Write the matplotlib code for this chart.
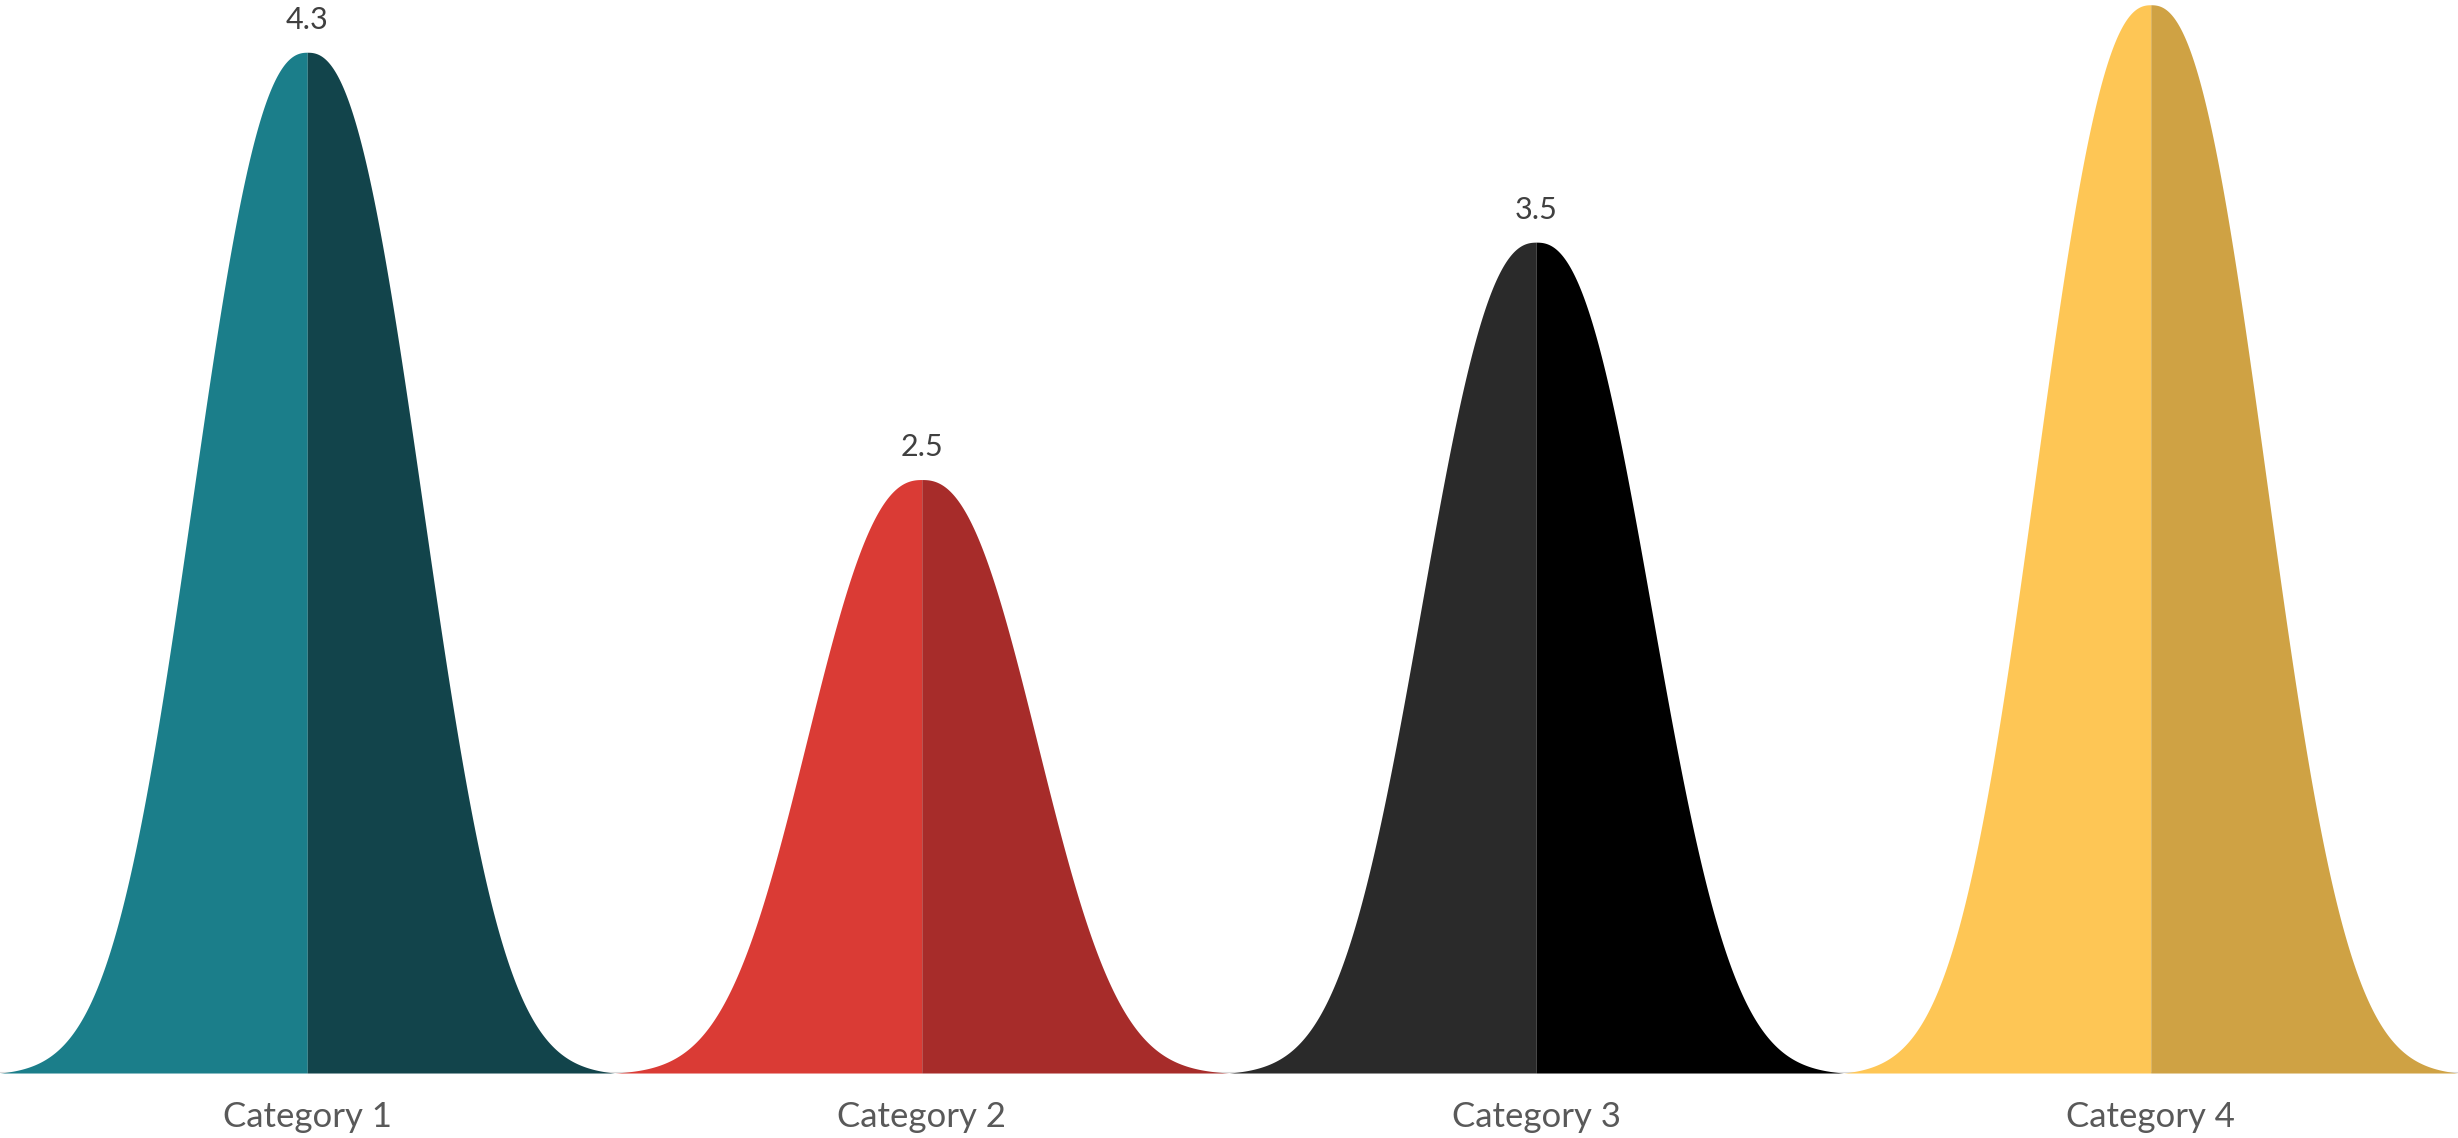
import numpy as np
import matplotlib
matplotlib.use('Agg')
import matplotlib.pyplot as plt

categories = ['Category 1', 'Category 2', 'Category 3', 'Category 4']
values = [4.3, 2.5, 3.5, 4.5]
left_colors = ['#1B7E8A', '#DA3B35', '#2A2A2A', '#FEC655']
right_colors = ['#12444B', '#A72C2A', '#000000', '#CFA244']

plt.rcParams['font.family'] = ['Lato', 'DejaVu Sans']

# bell profile on one category slot, 0 at the edges and 1 at the middle
u = np.linspace(-0.5, 0.5, 801)
a, p = 0.2351, 2.4
g = np.exp(-(np.abs(u) / a) ** p)
c = np.exp(-(0.5 / a) ** p)
shape = (g - c) / (1 - c)

ymax = 4.52

fig = plt.figure(figsize=(24.58, 11.38), dpi=100)
ax = fig.add_axes([0, 0.0571, 1, 0.9429])

ax.axhline(0, color='#D9D9D9', lw=2.2, zorder=1)

for i, v in enumerate(values):
    left = u <= 0
    right = u >= 0
    ax.fill_between(i + u[left], 0, v * shape[left], color=left_colors[i], lw=0, zorder=2)
    ax.fill_between(i + u[right], 0, v * shape[right], color=right_colors[i], lw=0, zorder=2)
    # the label of the tallest bell sits above the top of the picture
    if v + 0.2 < ymax:
        ax.annotate(f'{v}', xy=(i, v), xytext=(0, 13), textcoords='offset points',
                    ha='center', va='bottom', fontsize=22, color='#404040')

ax.set_xlim(-0.5, 3.5)
ax.set_ylim(0, ymax)
ax.set_xticks(range(len(categories)))
ax.set_xticklabels(categories, fontsize=25, color='#595959')
ax.tick_params(axis='x', length=0, pad=20)
ax.set_yticks([])
for s in ax.spines.values():
    s.set_visible(False)

fig.savefig('out.png', dpi=100)
